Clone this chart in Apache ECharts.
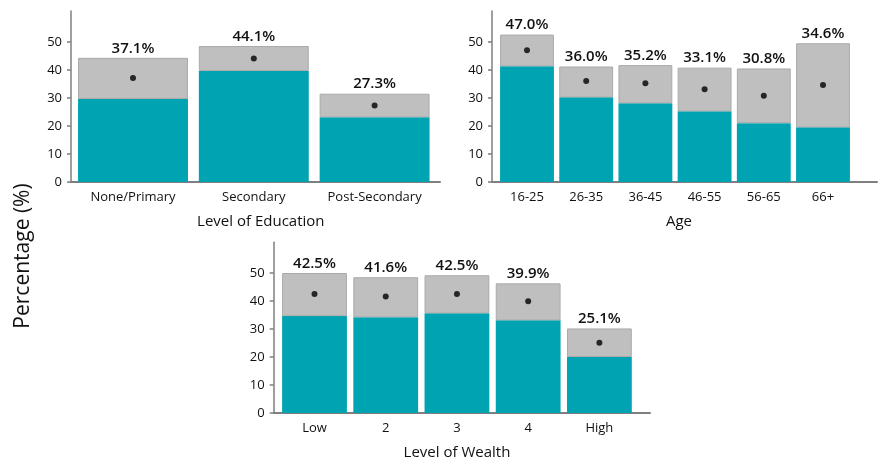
<!DOCTYPE html>
<html>
<head>
<meta charset="utf-8">
<script src="https://cdn.jsdelivr.net/npm/echarts@6/dist/echarts.min.js"></script>
<style>
html,body{margin:0;padding:0;background:#fff;}
#chart{width:881px;height:462px;}
</style>
</head>
<body>
<div id="chart"></div>
<script>
// ---- Data ----
const eduCategories = ['None/Primary', 'Secondary', 'Post-Secondary'];
const eduLower = [29.6, 39.6, 23.1];
const eduUpper = [44.3, 48.5, 31.5];
const eduEstimate = [37.1, 44.1, 27.3];

const ageCategories = ['16-25', '26-35', '36-45', '46-55', '56-65', '66+'];
const ageLower = [41.3, 30.2, 28.1, 25.2, 21.0, 19.5];
const ageUpper = [52.6, 41.2, 41.7, 40.8, 40.5, 49.5];
const ageEstimate = [47.0, 36.0, 35.2, 33.1, 30.8, 34.6];

const wealthCategories = ['Low', '2', '3', '4', 'High'];
const wealthLower = [34.6, 34.2, 35.6, 33.1, 20.0];
const wealthUpper = [50.0, 48.5, 49.2, 46.3, 30.2];
const wealthEstimate = [42.5, 41.6, 42.5, 39.9, 25.1];

const yTicks = [0, 10, 20, 30, 40, 50];
const yMax = 61;

// ---- Styles ----
const FONT = '"Open Sans", "Noto Sans", sans-serif';
const TEAL = '#00A3B1';
const GREY = '#BFBFBF';
const AXIS = '#7F7F7F';
const TEXT = '#111';

const panels = [
  { name: 'Level of Education', cats: eduCategories, lower: eduLower, upper: eduUpper, est: eduEstimate,
    frame: { left: 71, right: 441, top: 11, bottom: 280 },
    bars: { left: 72.6, right: 446, top: 11, bottom: 280 }, namePad: [0, 0, 0, 14] },
  { name: 'Age', cats: ageCategories, lower: ageLower, upper: ageUpper, est: ageEstimate,
    frame: { left: 492, right: 4, top: 11, bottom: 280 },
    bars: { left: 497.4, right: 28.4, top: 11, bottom: 280 }, namePad: [0, 0, 0, 8] },
  { name: 'Level of Wealth', cats: wealthCategories, lower: wealthLower, upper: wealthUpper, est: wealthEstimate,
    frame: { left: 273.7, right: 231, top: 242.2, bottom: 49 },
    bars: { left: 278.9, right: 246, top: 242.2, bottom: 49 }, namePad: [0, 0, 0, 0] }
];

const grid = [], xAxis = [], yAxis = [], series = [];
panels.forEach((p, i) => {
  const gf = grid.length;
  grid.push(Object.assign({}, p.frame));
  const gb = grid.length;
  grid.push(Object.assign({}, p.bars));

  // frame grid: axis lines, y ticks & labels
  xAxis.push({
    gridIndex: gf, type: 'value', min: 0, max: 1,
    axisLine: { show: true, lineStyle: { color: AXIS, width: 2 } },
    axisTick: { show: false }, axisLabel: { show: false }, splitLine: { show: false }
  });
  yAxis.push({
    gridIndex: gf, type: 'value', min: 0, max: yMax,
    axisLine: { show: true, lineStyle: { color: AXIS, width: 1.5 } },
    axisTick: { show: true, length: 4, customValues: yTicks, lineStyle: { color: AXIS, width: 1.5 } },
    axisLabel: { show: true, customValues: yTicks, margin: 9, color: TEXT, fontSize: 13, fontFamily: FONT },
    splitLine: { show: false }
  });

  // bars grid
  const xb = xAxis.length;
  xAxis.push({
    gridIndex: gb, type: 'category', data: p.cats,
    axisLine: { show: false }, axisTick: { show: false },
    axisLabel: { interval: 0, margin: 9, color: TEXT, fontSize: 13, fontFamily: FONT },
    name: p.name, nameLocation: 'middle', nameGap: 32,
    nameTextStyle: { color: TEXT, fontSize: 15, fontFamily: FONT, padding: p.namePad }
  });
  const yb = yAxis.length;
  yAxis.push({ gridIndex: gb, type: 'value', min: 0, max: yMax, show: false });

  series.push({
    type: 'bar', xAxisIndex: xb, yAxisIndex: yb, stack: 'ci' + i,
    barCategoryGap: '9%', data: p.lower,
    itemStyle: { color: TEAL }, silent: true
  });
  series.push({
    type: 'bar', xAxisIndex: xb, yAxisIndex: yb, stack: 'ci' + i,
    barCategoryGap: '9%',
    data: p.upper.map((u, k) => +(u - p.lower[k]).toFixed(2)),
    itemStyle: { color: GREY, borderColor: '#AAAAAA', borderWidth: 1 },
    label: {
      show: true, position: 'top', distance: 2,
      formatter: (params) => p.est[params.dataIndex].toFixed(1) + '%',
      color: TEXT, fontSize: 15, fontWeight: 600, fontFamily: FONT
    },
    silent: true
  });
  series.push({
    type: 'scatter', xAxisIndex: xb, yAxisIndex: yb,
    data: p.est, symbol: 'circle', symbolSize: 6,
    itemStyle: { color: '#000' }, silent: true, z: 5
  });
});

const chart = echarts.init(document.getElementById('chart'), null, { renderer: 'canvas' });
chart.setOption({
  animation: false,
  backgroundColor: '#fff',
  grid, xAxis, yAxis, series,
  graphic: [{
    type: 'text', x: 23, y: 256, rotation: Math.PI / 2,
    style: { text: 'Percentage (%)', fill: TEXT, font: '500 21px ' + FONT, textAlign: 'center', textVerticalAlign: 'middle' }
  }]
});
</script>
</body>
</html>
